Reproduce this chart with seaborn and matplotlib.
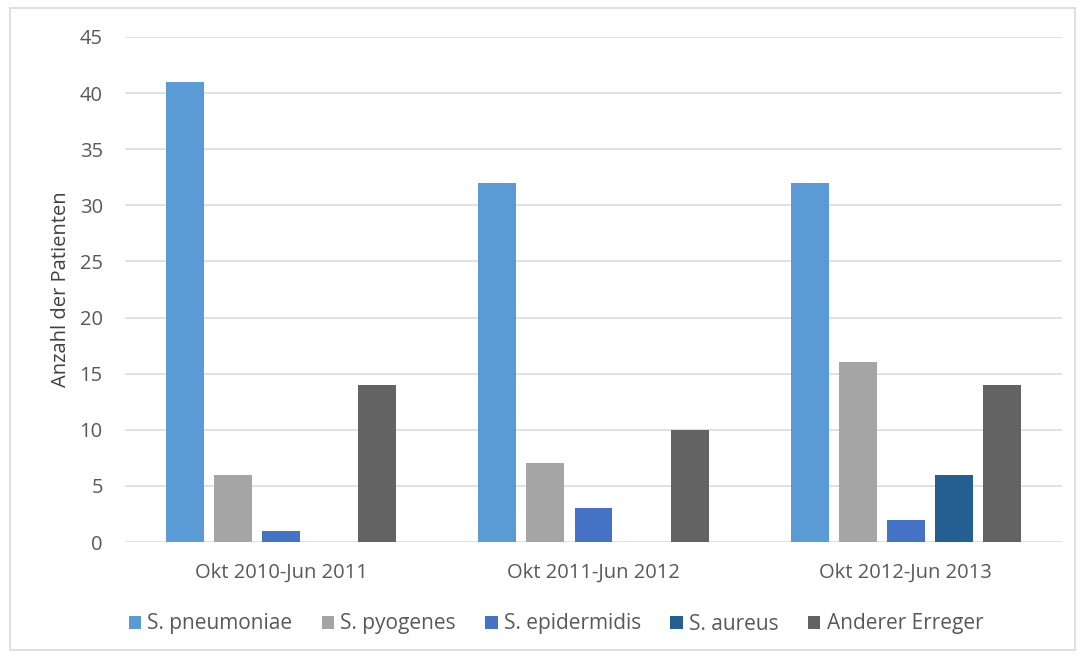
import matplotlib
matplotlib.use("Agg")
import matplotlib.pyplot as plt
from matplotlib.patches import Rectangle, Patch
import seaborn as sns
import pandas as pd

periods = ["Okt 2010-Jun 2011", "Okt 2011-Jun 2012", "Okt 2012-Jun 2013"]
pathogens = ["S. pneumoniae", "S. pyogenes", "S. epidermidis", "S. aureus", "Anderer Erreger"]
s_pneumoniae = [41, 32, 32]
s_pyogenes = [6, 7, 16]
s_epidermidis = [1, 3, 2]
s_aureus = [0, 0, 6]
anderer_erreger = [14, 10, 14]
colors = ["#5B9BD5", "#A5A5A5", "#4472C4", "#255E91", "#636363"]

series = [s_pneumoniae, s_pyogenes, s_epidermidis, s_aureus, anderer_erreger]
rows = []
for name, vals in zip(pathogens, series):
    for p, v in zip(periods, vals):
        rows.append({"Zeitraum": p, "Erreger": name, "Anzahl": v})
df = pd.DataFrame(rows)

sns.set_theme(style="white")
plt.rcParams["font.family"] = ["Open Sans", "DejaVu Sans"]
text_color = "#595959"
fs = 14.5

W, H = 1082, 657
fig = plt.figure(figsize=(W / 100, H / 100), dpi=100)
ax = fig.add_axes([125 / W, 1 - 542 / H, (1062 - 125) / W, (542 - 37) / H])

sns.barplot(data=df, x="Zeitraum", y="Anzahl", hue="Erreger", order=periods,
            hue_order=pathogens, palette=colors, width=0.77, gap=0.21,
            saturation=1, legend=False, ax=ax, edgecolor="none")

ax.set_xlim(-0.5, 2.5)
ax.set_ylim(0, 45)
ax.set_yticks(range(0, 46, 5))
ax.yaxis.grid(True, color="#D9D9D9", linewidth=1.1)
ax.set_axisbelow(True)
for s in ax.spines.values():
    s.set_visible(False)
ax.tick_params(axis="both", length=0, labelsize=fs, colors=text_color)
ax.tick_params(axis="y", pad=16)
ax.tick_params(axis="x", pad=15)
ax.set_xlabel("")
ax.set_ylabel("Anzahl der Patienten", fontsize=fs, color="#404040")
ax.yaxis.set_label_coords(-0.058, 0.5)

handles = [Patch(facecolor=c, edgecolor="none") for c in colors]
fig.legend(handles, pathogens, loc="center", bbox_to_anchor=(556 / W, 1 - 624 / H),
           ncol=5, frameon=False, fontsize=15, labelcolor=text_color,
           handlelength=0.6, handleheight=0.6, handletextpad=0.3, columnspacing=1.4)

fig.add_artist(Rectangle((10 / W, 1 - 650 / H), 1065 / W, 642 / H,
                         transform=fig.transFigure, fill=False,
                         edgecolor="#D9D9D9", linewidth=1.2))

fig.savefig("out.png", dpi=100, facecolor="white")
